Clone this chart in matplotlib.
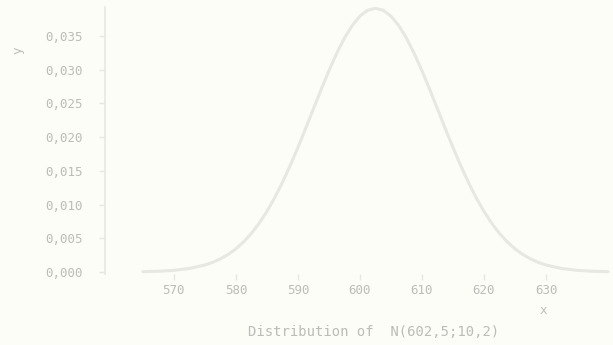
import matplotlib
matplotlib.use("Agg")
import matplotlib.pyplot as plt
from matplotlib.ticker import FuncFormatter

# data (density of the distribution)
x_vals = [565, 567.5, 570, 572.5, 575, 576.25, 577.5, 578.75, 580, 581.25, 582.5,
          583.75, 585, 586.25, 587.5, 588.75, 590, 591.25, 592.5, 593.75, 595,
          596.25, 597.5, 598.75, 600, 601.25, 602.5, 603.75, 605, 606.25, 607.5,
          608.75, 610, 611.25, 612.5, 613.75, 615, 616.25, 617.5, 618.75, 620,
          621.25, 622.5, 623.75, 625, 626.25, 627.5, 628.75, 630, 632.5, 635,
          637.5, 640]
y_vals = [0.00005, 0.00011, 0.00024, 0.00052, 0.00103, 0.00143, 0.00194, 0.00260,
          0.00343, 0.00447, 0.00572, 0.00722, 0.00898, 0.01099, 0.01327, 0.01577,
          0.01846, 0.02129, 0.02419, 0.02707, 0.02985, 0.03242, 0.03468, 0.03656,
          0.03795, 0.03882, 0.03911, 0.03882, 0.03795, 0.03656, 0.03468, 0.03242,
          0.02985, 0.02707, 0.02419, 0.02129, 0.01846, 0.01577, 0.01327, 0.01099,
          0.00898, 0.00722, 0.00572, 0.00447, 0.00343, 0.00260, 0.00194, 0.00143,
          0.00103, 0.00052, 0.00024, 0.00011, 0.00005]
x_ticks = [570, 580, 590, 600, 610, 620, 630]
y_ticks = [0.000, 0.005, 0.010, 0.015, 0.020, 0.025, 0.030, 0.035]
title = "Distribution of  N(602,5;10,2)"

bg = "#fdfdf8"
fg = "#bcbcb8"
line_c = "#e8e8e2"

W, H = 613, 345
fig = plt.figure(figsize=(W / 100, H / 100), dpi=100, facecolor=bg)
ax = fig.add_axes([105 / W, 1 - 274 / H, (W - 105) / W, (274 - 7) / H])
ax.set_facecolor(bg)

ax.plot(x_vals, y_vals, color=line_c, lw=2.2, solid_capstyle="round",
        solid_joinstyle="round")

ax.set_xlim(558.9, 640.8)
ax.set_ylim(-0.0003, 0.0393)

ax.set_xticks(x_ticks)
ax.set_xticklabels([str(v) for v in x_ticks])
ax.set_yticks(y_ticks)
ax.yaxis.set_major_formatter(FuncFormatter(lambda v, p: f"{v:.3f}".replace(".", ",")))

for s in ["top", "right", "bottom"]:
    ax.spines[s].set_visible(False)
ax.spines["left"].set_color(line_c)
ax.spines["left"].set_linewidth(1.2)

mono = "DejaVu Sans Mono"
ax.tick_params(axis="both", colors=line_c, labelcolor=fg, labelsize=9, length=4, width=1)
ax.tick_params(axis="y", pad=12)
ax.tick_params(axis="x", pad=3)
for lab in ax.get_xticklabels() + ax.get_yticklabels():
    lab.set_family(mono)

fig.text(18 / W, 1 - 50 / H, "y", color=fg, fontsize=9, family=mono,
         ha="center", va="center", rotation=90)
fig.text(543 / W, 1 - 311 / H, "x", color=fg, fontsize=9, family=mono,
         ha="center", va="center")
fig.text(374 / W, 1 - 332 / H, title, color=fg, fontsize=10, family=mono,
         ha="center", va="center")

fig.savefig("out.png", dpi=100, facecolor=bg)
